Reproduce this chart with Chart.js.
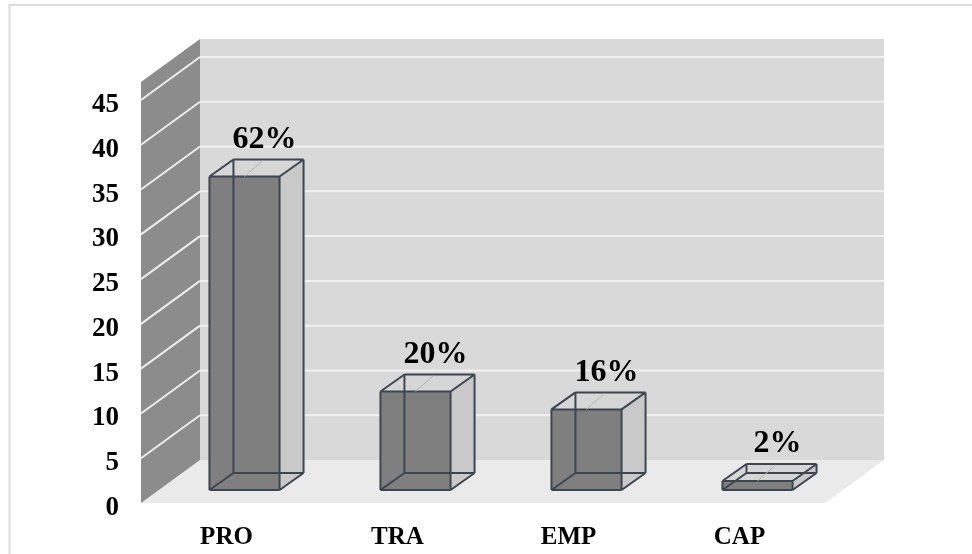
<!DOCTYPE html>
<html>
<head>
<meta charset="utf-8">
<script src="https://cdn.jsdelivr.net/npm/chart.js@4/dist/chart.umd.min.js"></script>
<style>
  html, body { margin: 0; padding: 0; background: #ffffff; }
  #wrap { width: 972px; height: 554px; position: relative; }
</style>
</head>
<body>
<div id="wrap"><canvas id="chart" width="972" height="554"></canvas></div>
<script>
// Respondents per category and the share each represents
const categories = ['PRO', 'TRA', 'EMP', 'CAP'];
const counts = [35, 11, 9, 1];
const shareLabels = ['62%', '20%', '16%', '2%'];
const yMin = 0;
const yMax = 45;
const yStep = 5;

// Oblique projection offsets (pixels) for the pseudo-3D look
const WALL_DX = 59, WALL_DY = -43;   // front plane -> back wall
const BAR_DX = 18, BAR_DY = -13;     // front plane -> front face of the boxes
const BOX_DX = 24, BOX_DY = -17;     // box depth
const WALL_EXTRA = 18;               // walls rise a little above the top tick

const serif = '"Liberation Serif", "Times New Roman", serif';

function poly(ctx, pts, fill) {
  ctx.beginPath();
  ctx.moveTo(pts[0][0], pts[0][1]);
  for (let i = 1; i < pts.length; i++) ctx.lineTo(pts[i][0], pts[i][1]);
  ctx.closePath();
  ctx.fillStyle = fill;
  ctx.fill();
}
function seg(ctx, a, b) {
  ctx.moveTo(a[0], a[1]);
  ctx.lineTo(b[0], b[1]);
}

const scenePlugin = {
  id: 'scene3d',
  beforeDraw(chart) {
    const ctx = chart.ctx;
    ctx.save();
    ctx.fillStyle = '#ffffff';
    ctx.fillRect(0, 0, chart.width, chart.height);
    ctx.strokeStyle = '#dcdcdc';
    ctx.lineWidth = 2;
    ctx.strokeRect(9.5, 5, chart.width + 20, chart.height + 20);
    ctx.restore();
  },
  beforeDatasetsDraw(chart) {
    const { ctx, chartArea: a, scales } = chart;
    const y = scales.y;
    const top = a.top - WALL_EXTRA;
    ctx.save();
    // back wall
    poly(ctx, [[a.left + WALL_DX, top + WALL_DY], [a.right + WALL_DX, top + WALL_DY],
               [a.right + WALL_DX, a.bottom + WALL_DY], [a.left + WALL_DX, a.bottom + WALL_DY]], '#d9d9d9');
    // back wall grid
    ctx.strokeStyle = '#f1f1f1';
    ctx.lineWidth = 2;
    ctx.beginPath();
    y.ticks.forEach(t => {
      if (t.value <= yMin) return;
      const py = y.getPixelForValue(t.value) + WALL_DY;
      seg(ctx, [a.left + WALL_DX, py], [a.right + WALL_DX, py]);
    });
    ctx.stroke();
    // floor
    poly(ctx, [[a.left, a.bottom], [a.right, a.bottom],
               [a.right + WALL_DX, a.bottom + WALL_DY], [a.left + WALL_DX, a.bottom + WALL_DY]], '#eaeaea');
    // side wall
    poly(ctx, [[a.left, a.bottom], [a.left, top],
               [a.left + WALL_DX, top + WALL_DY], [a.left + WALL_DX, a.bottom + WALL_DY]], '#8c8c8c');
    ctx.strokeStyle = '#ededed';
    ctx.lineWidth = 2;
    ctx.beginPath();
    y.ticks.forEach(t => {
      if (t.value <= yMin) return;
      const py = y.getPixelForValue(t.value);
      seg(ctx, [a.left, py], [a.left + WALL_DX, py + WALL_DY]);
    });
    ctx.stroke();
    ctx.restore();
  },
  afterDatasetsDraw(chart) {
    const ctx = chart.ctx;
    const meta = chart.getDatasetMeta(0);
    ctx.save();
    meta.data.forEach((el, i) => {
      const w = el.width;
      const x0 = el.x - w / 2 + BAR_DX, x1 = el.x + w / 2 + BAR_DX;
      const yT = el.y + BAR_DY, yB = el.base + BAR_DY;
      const dx = BOX_DX, dy = BOX_DY;
      // faces
      poly(ctx, [[x1, yT], [x1 + dx, yT + dy], [x1 + dx, yB + dy], [x1, yB]], '#c9c9c9');
      poly(ctx, [[x0, yT], [x1, yT], [x1 + dx, yT + dy], [x0 + dx, yT + dy]], '#d6d6d6');
      poly(ctx, [[x0, yT], [x1, yT], [x1, yB], [x0, yB]], '#7f7f7f');
      // wireframe edges
      ctx.strokeStyle = '#3d4551';
      ctx.lineWidth = 2;
      ctx.lineJoin = 'round';
      ctx.beginPath();
      const F = [[x0, yT], [x1, yT], [x1, yB], [x0, yB]];
      const B = F.map(p => [p[0] + dx, p[1] + dy]);
      for (let k = 0; k < 4; k++) {
        seg(ctx, F[k], F[(k + 1) % 4]);
        seg(ctx, B[k], B[(k + 1) % 4]);
        seg(ctx, F[k], B[k]);
      }
      ctx.stroke();
      // leader and share label
      const cx = (x0 + x1) / 2;
      ctx.strokeStyle = '#b4b4b4';
      ctx.lineWidth = 1;
      ctx.beginPath();
      seg(ctx, [cx, yT], [cx + 18, yT - 16]);
      ctx.stroke();
      ctx.fillStyle = '#000000';
      ctx.font = 'bold 32px ' + serif;
      ctx.textAlign = 'center';
      ctx.textBaseline = 'middle';
      ctx.fillText(shareLabels[i], cx + 20, yT - 37);
    });
    ctx.restore();
  }
};

new Chart(document.getElementById('chart'), {
  type: 'bar',
  data: {
    labels: categories,
    datasets: [{
      data: counts,
      backgroundColor: 'rgba(0,0,0,0)',
      borderWidth: 0,
      categoryPercentage: 1,
      barPercentage: 0.41
    }]
  },
  options: {
    responsive: false,
    animation: false,
    devicePixelRatio: 1,
    layout: { padding: { top: 100, right: 147, left: 0, bottom: 0 } },
    plugins: { legend: { display: false }, tooltip: { enabled: false }, title: { display: false } },
    scales: {
      x: {
        grid: { display: false },
        border: { display: false },
        ticks: { color: '#000', padding: 12, font: { family: serif, size: 25, weight: 'bold' } },
        afterFit(s) { s.height = 51; }
      },
      y: {
        min: yMin,
        max: yMax,
        grid: { display: false },
        border: { display: false },
        ticks: { stepSize: yStep, color: '#000', padding: 14, labelOffset: 5,
                 font: { family: serif, size: 27, weight: 'bold' } },
        afterFit(s) { s.width = 141; }
      }
    }
  },
  plugins: [scenePlugin]
});
</script>
</body>
</html>
